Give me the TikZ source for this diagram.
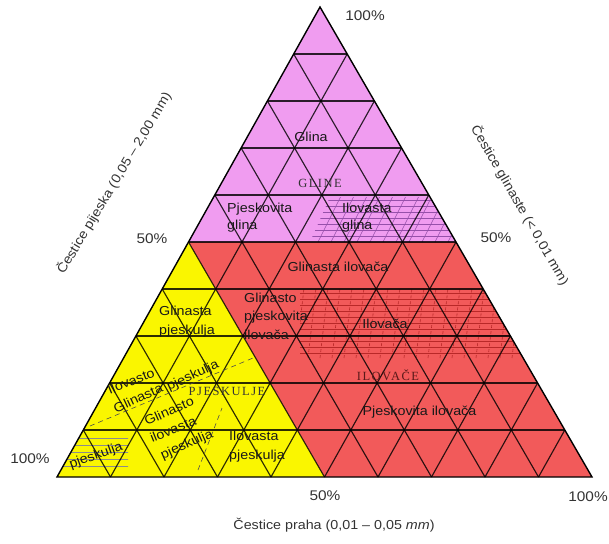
\documentclass[tikz,border=0pt]{standalone}
\usepackage{fontspec}
\setmainfont{Liberation Sans}
\newfontfamily\lblfont[FakeStretch=1.1]{Liberation Sans}
\newfontfamily\capfont[LetterSpace=12]{Liberation Serif}
\usetikzlibrary{calc}
\definecolor{pinkc}{RGB}{240,156,240}
\definecolor{redc}{RGB}{242,90,90}
\definecolor{yellowc}{RGB}{250,246,0}
\definecolor{hatchpc}{RGB}{150,80,170}
\definecolor{hatchrc}{RGB}{185,40,40}
\definecolor{capred}{RGB}{90,25,25}
\begin{document}
\begin{tikzpicture}[x=1pt,y=-1pt,
  lbl/.style={font=\lblfont\fontsize{13}{17}\selectfont, text=black!90, inner sep=0pt, align=left},
  pct/.style={font=\lblfont\fontsize{14}{16}\selectfont, text=black!80, inner sep=0pt},
  axis/.style={font=\lblfont\fontsize{13}{15}\selectfont, text=black!80, inner sep=0pt},
  caps/.style={font=\capfont\fontsize{12.5}{14}\selectfont, text=black!80, inner sep=0pt},
  gridline/.style={draw=black, line width=1.15pt, opacity=0.82},
  hatchp/.style={draw=hatchpc, line width=0.5pt},
  hatchr/.style={draw=hatchrc, line width=0.6pt},
  dashline/.style={draw=black!70, line width=0.6pt, dash pattern=on 5pt off 4pt}]
\useasboundingbox (0,0) rectangle (609,543);
% corners
\coordinate (A) at (320,7);
\coordinate (L) at (57,477);
\coordinate (R) at (592,477);
\coordinate (ML) at ($(L)!0.5!(A)$);
\coordinate (MR) at ($(R)!0.5!(A)$);
\coordinate (MB) at ($(L)!0.5!(R)$);
% regions
\fill[pinkc] (A) -- (ML) -- (MR) -- cycle;
\fill[redc] (ML) -- (MR) -- (R) -- (MB) -- cycle;
\fill[yellowc] (L) -- (ML) -- (MB) -- cycle;
% hatch: Ilovasta glina
\coordinate (ha1) at (310,242);
\coordinate (ha2) at (330,197);
\coordinate (ha3) at (429,197);
\coordinate (ha4) at (456,242);
\begin{scope}
  \clip (ha1) -- (ha2) -- (ha3) -- (ha4) -- cycle;
  \foreach \yy in {200,206,...,242} \draw[hatchp] (290,\yy) -- (470,\yy);
  \foreach \xx in {262,275,...,470} \draw[hatchp] (\xx,250) -- ++(28,-56);
\end{scope}
% hatch: Ilovaca
\coordinate (hb1) at (300,289);
\coordinate (hb2) at (483,289);
\coordinate (hb3) at (523,358);
\coordinate (hb4) at (300,358);
\begin{scope}
  \clip (hb1) -- (hb2) -- (hb3) -- (hb4) -- cycle;
  \foreach \yy in {293,299,...,357} \draw[hatchr] (290,\yy) -- (530,\yy);
  \foreach \xx in {296,308,...,530} \draw[hatchr, dash pattern=on 3pt off 3pt] (\xx,358) -- ++(8,-70);
\end{scope}
% hatch: bottom-left pjeskulja
\coordinate (hc2) at (82,432);
\coordinate (hc3) at (128,432);
\coordinate (hc4) at (128,470);
\begin{scope}
  \clip (L) -- (hc2) -- (hc3) -- (hc4) -- cycle;
  \foreach \yy in {438,445,...,472} \draw[draw=black!45, line width=0.4pt] (55,\yy) -- (130,\yy);
\end{scope}
% grid
\foreach \k in {1,...,9} {
  \draw[gridline] ($(L)!\k/10!(A)$) -- ($(R)!\k/10!(A)$);
  \draw[gridline] ($(L)!\k/10!(R)$) -- ($(A)!\k/10!(R)$);
  \draw[gridline] ($(L)!\k/10!(R)$) -- ($(L)!\k/10!(A)$);
}
% dashed lines in yellow region
\coordinate (d1) at (90,426);
\coordinate (d2) at (253,358);
\draw[dashline] (d1) -- (d2);
\coordinate (d3) at (198,470);
\coordinate (d4) at (222,408);
\draw[dashline] (d3) -- (d4);
% outline
\draw[line width=1.4pt, line join=miter] (A) -- (L) -- (R) -- cycle;
% percentages
\node[pct] (p1) at (365,16) {100\%};
\node[pct] (p2) at (152,239) {50\%};
\node[pct] (p3) at (496,238) {50\%};
\node[pct] (p4) at (30,459) {100\%};
\node[pct] (p5) at (325,496) {50\%};
\node[pct] (p6) at (588,497) {100\%};
% axis titles
\node[axis, rotate=59] (ax1) at (114,183) {Čestice pijeska (0,05 – 2,00 mm)};
\node[axis, rotate=-60] (ax2) at (520,205) {Čestice glinaste (< 0,01 mm)};
\node[axis] (ax3) at (334,525) {Čestice praha (0,01 – 0,05 \textit{mm})};
% region labels
\node[lbl] (t1) at (311,137) {Glina};
\node[caps] (t2) at (320,183) {GLINE};
\node[lbl, anchor=west] (t3) at (227,217.5) {Pjeskovita\\glina};
\node[lbl, anchor=west] (t4) at (342,217.5) {Ilovasta\\glina};
\node[lbl] (t5) at (338,267) {Glinasta ilovača};
\node[lbl, anchor=west, font=\lblfont\fontsize{13}{18.5}\selectfont] (t6) at (244,316) {Glinasto\\pjeskovita\\ilovača};
\node[lbl, anchor=west, font=\lblfont\fontsize{13}{19}\selectfont] (t7) at (159,321.5) {Glinasta\\pjeskulja};
\node[lbl] (t8) at (385,324) {Ilovača};
\node[caps, text=capred] (t9) at (388,375) {ILOVAČE};
\node[lbl] (t10) at (419.5,412) {Pjeskovita ilovača};
\node[caps] (t11) at (227,391) {PJESKULJE};
\node[lbl, anchor=west, font=\lblfont\fontsize{13}{19}\selectfont] (t12) at (229,446.5) {Ilovasta\\pjeskulja};
\node[lbl, rotate=22] (t13) at (131,381) {Ilovasto};
\node[lbl, rotate=25] (t14) at (138,398) {Glinasta};
\node[lbl, rotate=25] (t15) at (193,376) {pjeskulja};
\node[lbl, rotate=24] (t16) at (169,411) {Glinasto};
\node[lbl, rotate=22] (t17) at (173,429) {ilovasta};
\node[lbl, rotate=24] (t18) at (187,445) {pjeskulja};
\node[lbl, rotate=20] (t19) at (96,456) {pjeskulja};
\end{tikzpicture}
\end{document}
